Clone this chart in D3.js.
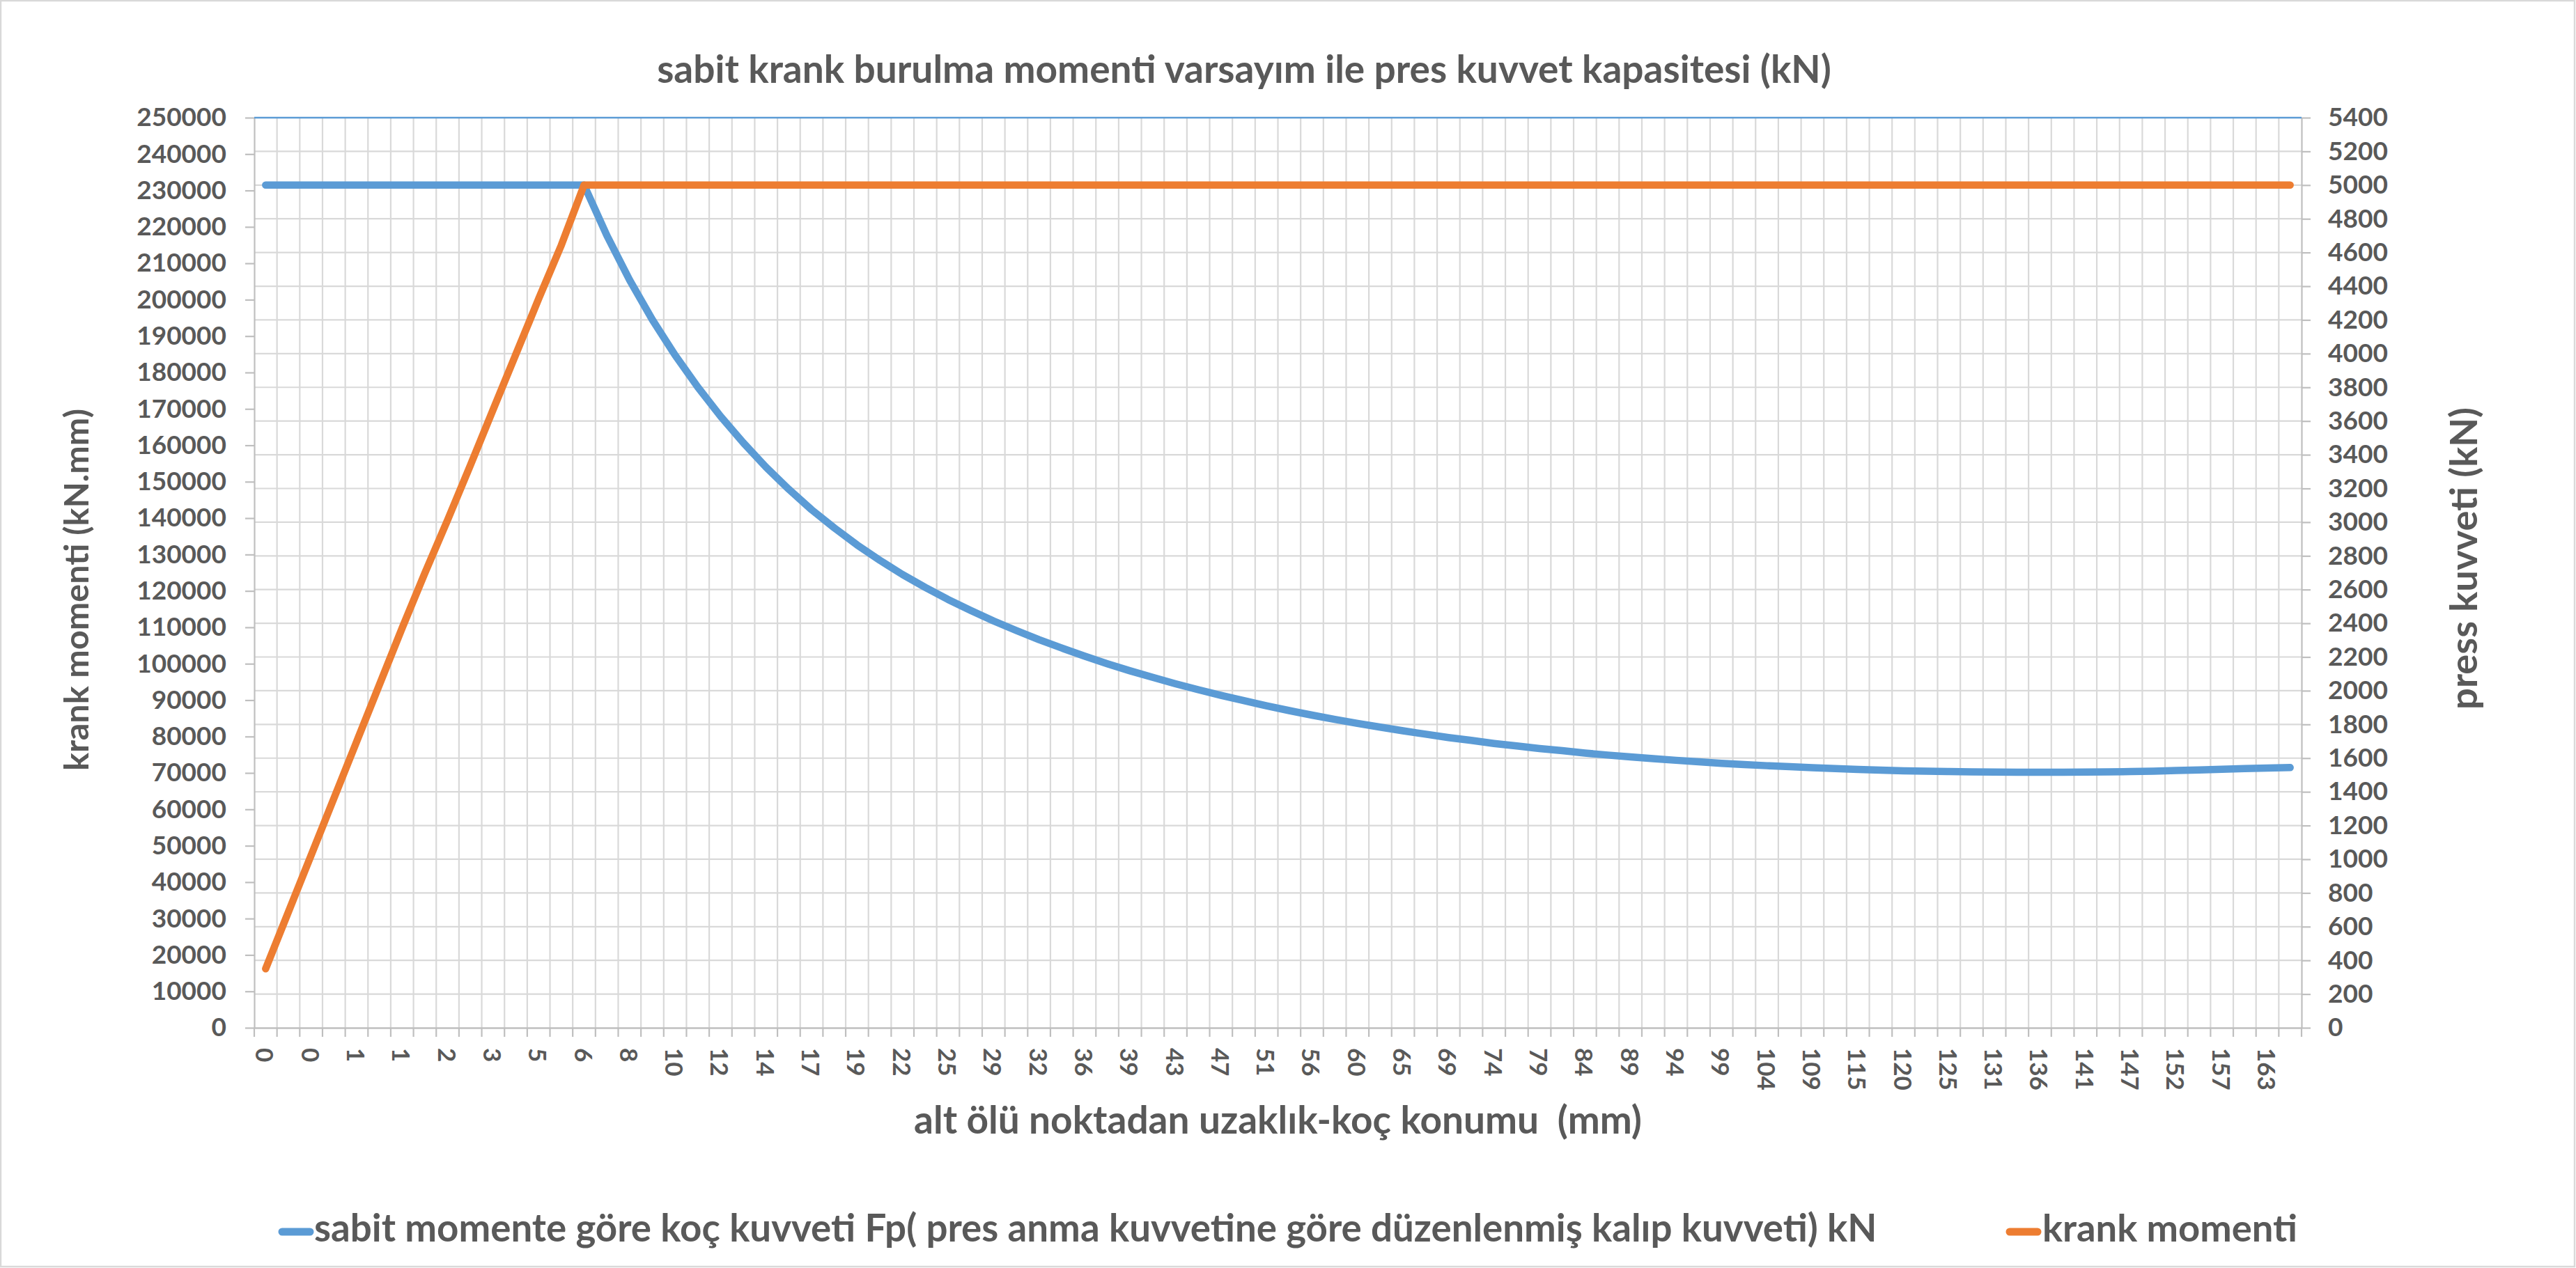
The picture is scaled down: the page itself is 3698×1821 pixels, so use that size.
<!DOCTYPE html>
<html>
<head>
<meta charset="utf-8">
<script src="https://cdn.jsdelivr.net/npm/d3@7"></script>
<style>
  body { margin: 0; background: #fff; }
  svg text { font-family: Lato, "Open Sans", sans-serif; font-weight: 700; fill: #595959; }
</style>
</head>
<body>
<svg id="chart" width="3698" height="1821"></svg>
<script>
// x axis labels, one for every second category
const xTickLabels = [0, 0, 1, 1, 2, 3, 5, 6, 8, 10, 12, 14, 17, 19, 22, 25, 29, 32, 36, 39, 43, 47, 51, 56, 60,
    65, 69, 74, 79, 84, 89, 94, 99, 104, 109, 115, 120, 125, 131, 136, 141, 147, 152, 157, 163];

// blue series: press force (kN), right axis
const kocKuvveti = [5000, 5000, 5000, 5000, 5000, 5000, 5000, 5000, 5000, 5000, 5000, 5000, 5000, 5000, 5000,
    4701, 4437, 4201, 3991, 3801, 3628, 3471, 3326, 3195, 3074, 2966, 2865, 2774, 2689, 2613,
    2541, 2476, 2414, 2357, 2303, 2253, 2205, 2160, 2118, 2079, 2041, 2006, 1972, 1941, 1910,
    1882, 1855, 1830, 1806, 1784, 1762, 1742, 1722, 1705, 1687, 1672, 1657, 1644, 1630, 1618,
    1607, 1597, 1587, 1578, 1569, 1562, 1555, 1549, 1543, 1538, 1533, 1529, 1525, 1522, 1520,
    1518, 1517, 1516, 1516, 1516, 1517, 1518, 1520, 1523, 1527, 1530, 1534, 1538, 1541, 1544];

// orange series: crank moment (kN.mm), left axis
const krankMomenti = [16200, 31800, 47400, 63000, 78600, 94200, 109800, 124900, 139500, 154500, 169800, 185000, 200200, 215000, 231500,
    231500, 231500, 231500, 231500, 231500, 231500, 231500, 231500, 231500, 231500, 231500, 231500, 231500, 231500, 231500,
    231500, 231500, 231500, 231500, 231500, 231500, 231500, 231500, 231500, 231500, 231500, 231500, 231500, 231500, 231500,
    231500, 231500, 231500, 231500, 231500, 231500, 231500, 231500, 231500, 231500, 231500, 231500, 231500, 231500, 231500,
    231500, 231500, 231500, 231500, 231500, 231500, 231500, 231500, 231500, 231500, 231500, 231500, 231500, 231500, 231500,
    231500, 231500, 231500, 231500, 231500, 231500, 231500, 231500, 231500, 231500, 231500, 231500, 231500, 231500, 231500];

const leftTicks = [0, 10000, 20000, 30000, 40000, 50000, 60000, 70000, 80000, 90000, 100000, 110000, 120000,
    130000, 140000, 150000, 160000, 170000, 180000, 190000, 200000, 210000, 220000, 230000, 240000, 250000];
const rightTicks = [0, 200, 400, 600, 800, 1000, 1200, 1400, 1600, 1800, 2000, 2200, 2400, 2600, 2800,
    3000, 3200, 3400, 3600, 3800, 4000, 4200, 4400, 4600, 4800, 5000, 5200, 5400];

const seriesNames = ["sabit momente göre koç kuvveti Fp( pres anma kuvvetine göre düzenlenmiş kalıp kuvveti) kN", "krank momenti"];
const colors = ["#5B9BD5", "#ED7D31"];

const svg = d3.select("#chart");
const plotLeft = 365, plotRight = 3304, plotTop = 169, plotBottom = 1476;

svg.append("rect").attr("x", 1).attr("y", 1).attr("width", 3695).attr("height", 1818)
    .attr("fill", "#fff").attr("stroke", "#D9D9D9").attr("stroke-width", 2.5);

let categories = d3.range(kocKuvveti.length);
let x = d3.scaleBand().domain(categories).range([plotLeft, plotRight]).padding(0);
let xEdge = d3.scaleLinear().domain([0, categories.length]).range([plotLeft, plotRight]);
let yLeft = d3.scaleLinear().domain([0, 250000]).range([plotBottom, plotTop]);
let yRight = d3.scaleLinear().domain([0, 5400]).range([plotBottom, plotTop]);
let cx = i => x(i) + x.bandwidth() / 2;

// gridlines (horizontal ones follow the right axis)
svg.append("g").selectAll("line").data(rightTicks.slice(1))
    .enter().append("line")
    .attr("x1", plotLeft).attr("x2", plotRight)
    .attr("y1", d => yRight(d)).attr("y2", d => yRight(d))
    .attr("stroke", "#D9D9D9").attr("stroke-width", 2.2);
svg.append("g").selectAll("line").data(d3.range(1, categories.length))
    .enter().append("line")
    .attr("x1", d => xEdge(d)).attr("x2", d => xEdge(d))
    .attr("y1", plotTop).attr("y2", plotBottom)
    .attr("stroke", "#D9D9D9").attr("stroke-width", 2.2);

// boundary ticks under the category axis
svg.append("g").selectAll("line").data(d3.range(0, categories.length + 1))
    .enter().append("line")
    .attr("x1", d => xEdge(d)).attr("x2", d => xEdge(d))
    .attr("y1", plotBottom).attr("y2", plotBottom + 13)
    .attr("stroke", "#BFBFBF").attr("stroke-width", 2.2);

// left axis
let gL = svg.append("g").attr("transform", `translate(${plotLeft},0)`)
    .call(d3.axisLeft(yLeft).tickValues(leftTicks).tickSize(13).tickSizeOuter(0).tickPadding(27).tickFormat(d3.format("d")));
gL.selectAll("line, path").attr("stroke", "#BFBFBF").attr("stroke-width", 2.2);
gL.selectAll("text").attr("font-size", 37).attr("fill", "#595959");

// right axis
let gR = svg.append("g").attr("transform", `translate(${plotRight},0)`)
    .call(d3.axisRight(yRight).tickValues(rightTicks).tickSize(13).tickSizeOuter(0).tickPadding(25).tickFormat(d3.format("d")));
gR.selectAll("line, path").attr("stroke", "#BFBFBF").attr("stroke-width", 2.2);
gR.selectAll("text").attr("font-size", 37).attr("fill", "#595959");

// bottom category labels
let gB = svg.append("g").attr("transform", `translate(0,${plotBottom})`)
    .call(d3.axisBottom(x).tickValues(categories.filter(i => i % 2 === 0)).tickSize(0).tickSizeOuter(0)
        .tickFormat(i => xTickLabels[i / 2]));
gB.select(".domain").attr("stroke", "#BFBFBF").attr("stroke-width", 2.5);
gB.selectAll("text")
    .attr("font-size", 35).attr("fill", "#595959")
    .attr("text-anchor", "start").attr("dy", null).attr("y", null)
    .attr("dominant-baseline", "central")
    .attr("transform", "translate(0,29) rotate(90)");

// top line of the plot
svg.append("line").attr("x1", plotLeft).attr("x2", plotRight).attr("y1", plotTop).attr("y2", plotTop)
    .attr("stroke", "#5B9BD5").attr("stroke-width", 2.5);

// series
let lineRight = d3.line().x((d, i) => cx(i)).y(d => yRight(d));
let lineLeft = d3.line().x((d, i) => cx(i)).y(d => yLeft(d));
svg.append("path").datum(kocKuvveti)
    .attr("fill", "none").attr("stroke", colors[0]).attr("stroke-width", 10.5)
    .attr("stroke-linecap", "round").attr("stroke-linejoin", "round").attr("d", lineRight);
svg.append("path").datum(krankMomenti)
    .attr("fill", "none").attr("stroke", colors[1]).attr("stroke-width", 10.5)
    .attr("stroke-linecap", "round").attr("stroke-linejoin", "round").attr("d", lineLeft);

// fit a text element to a measured width
function fit(sel, width) {
    sel.attr("font-size", 100);
    let len = sel.node().getComputedTextLength();
    sel.attr("font-size", 100 * width / len);
    return sel;
}

// titles
fit(svg.append("text").attr("x", 1786).attr("y", 119).attr("text-anchor", "middle")
    .text("sabit krank burulma momenti varsayım ile pres kuvvet kapasitesi (kN)"), 1686);
fit(svg.append("text").attr("x", (plotLeft + plotRight) / 2).attr("y", 1628).attr("text-anchor", "middle")
    .style("white-space", "pre")
    .text("alt ölü noktadan uzaklık-koç konumu  (mm)"), 1045);
fit(svg.append("text").attr("transform", "translate(127,847) rotate(-90)").attr("text-anchor", "middle")
    .text("krank momenti (kN.mm)"), 520);
fit(svg.append("text").attr("transform", "translate(3556,802) rotate(-90)").attr("text-anchor", "middle")
    .text("press kuvveti (kN)"), 434);

// legend
let legendPos = [{mx: 400, tx: 451, w: 2244}, {mx: 2880, tx: 2932, w: 366}];
seriesNames.forEach((name, i) => {
    svg.append("line").attr("x1", legendPos[i].mx + 5).attr("x2", legendPos[i].mx + 45)
        .attr("y1", 1769).attr("y2", 1769)
        .attr("stroke", colors[i]).attr("stroke-width", 11).attr("stroke-linecap", "round");
    fit(svg.append("text").attr("x", legendPos[i].tx).attr("y", 1783).text(name), legendPos[i].w);
});
</script>
</body>
</html>
